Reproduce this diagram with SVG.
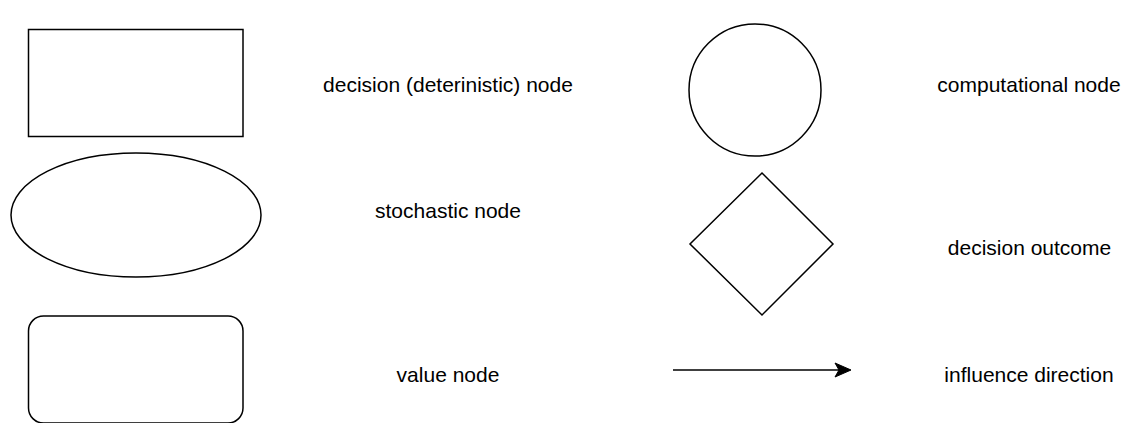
<svg xmlns="http://www.w3.org/2000/svg" width="1130" height="423" viewBox="0 0 1130 423">
<style>
.s{fill:#fff;stroke:#000;stroke-width:1.5}
.t{font-family:"Liberation Sans",Arial,sans-serif;font-size:21px;fill:#000;text-anchor:middle}
</style>
<rect width="1130" height="423" fill="#fff"/>
<g id="decision-node"><rect class="s" x="28.5" y="29.5" width="214.5" height="107"/></g>
<g id="decision-label"><text class="t" x="448" y="91.5">decision (deterinistic) node</text></g>
<g id="stochastic-node"><ellipse class="s" cx="136" cy="215" rx="125" ry="62"/></g>
<g id="stochastic-label"><text class="t" x="448" y="218">stochastic node</text></g>
<g id="value-node"><rect class="s" x="28.5" y="316" width="214.5" height="107" rx="15" ry="15"/></g>
<g id="value-label"><text class="t" x="448" y="382">value node</text></g>
<g id="computational-node"><circle class="s" cx="755" cy="90" r="66"/></g>
<g id="computational-label"><text class="t" x="1029" y="91.5">computational node</text></g>
<g id="decision-outcome"><polygon class="s" points="762,173 833,244 762,315 690,244"/></g>
<g id="outcome-label"><text class="t" x="1029.5" y="255">decision outcome</text></g>
<g id="connectors">
<line x1="673" y1="370" x2="842" y2="370" stroke="#000" stroke-width="1.5"/>
<polygon points="851,370 835,363 839,370 835,377" fill="#000" stroke="#000" stroke-width="1"/>
</g>
<g id="influence-label"><text class="t" x="1029" y="382">influence direction</text></g>
</svg>
